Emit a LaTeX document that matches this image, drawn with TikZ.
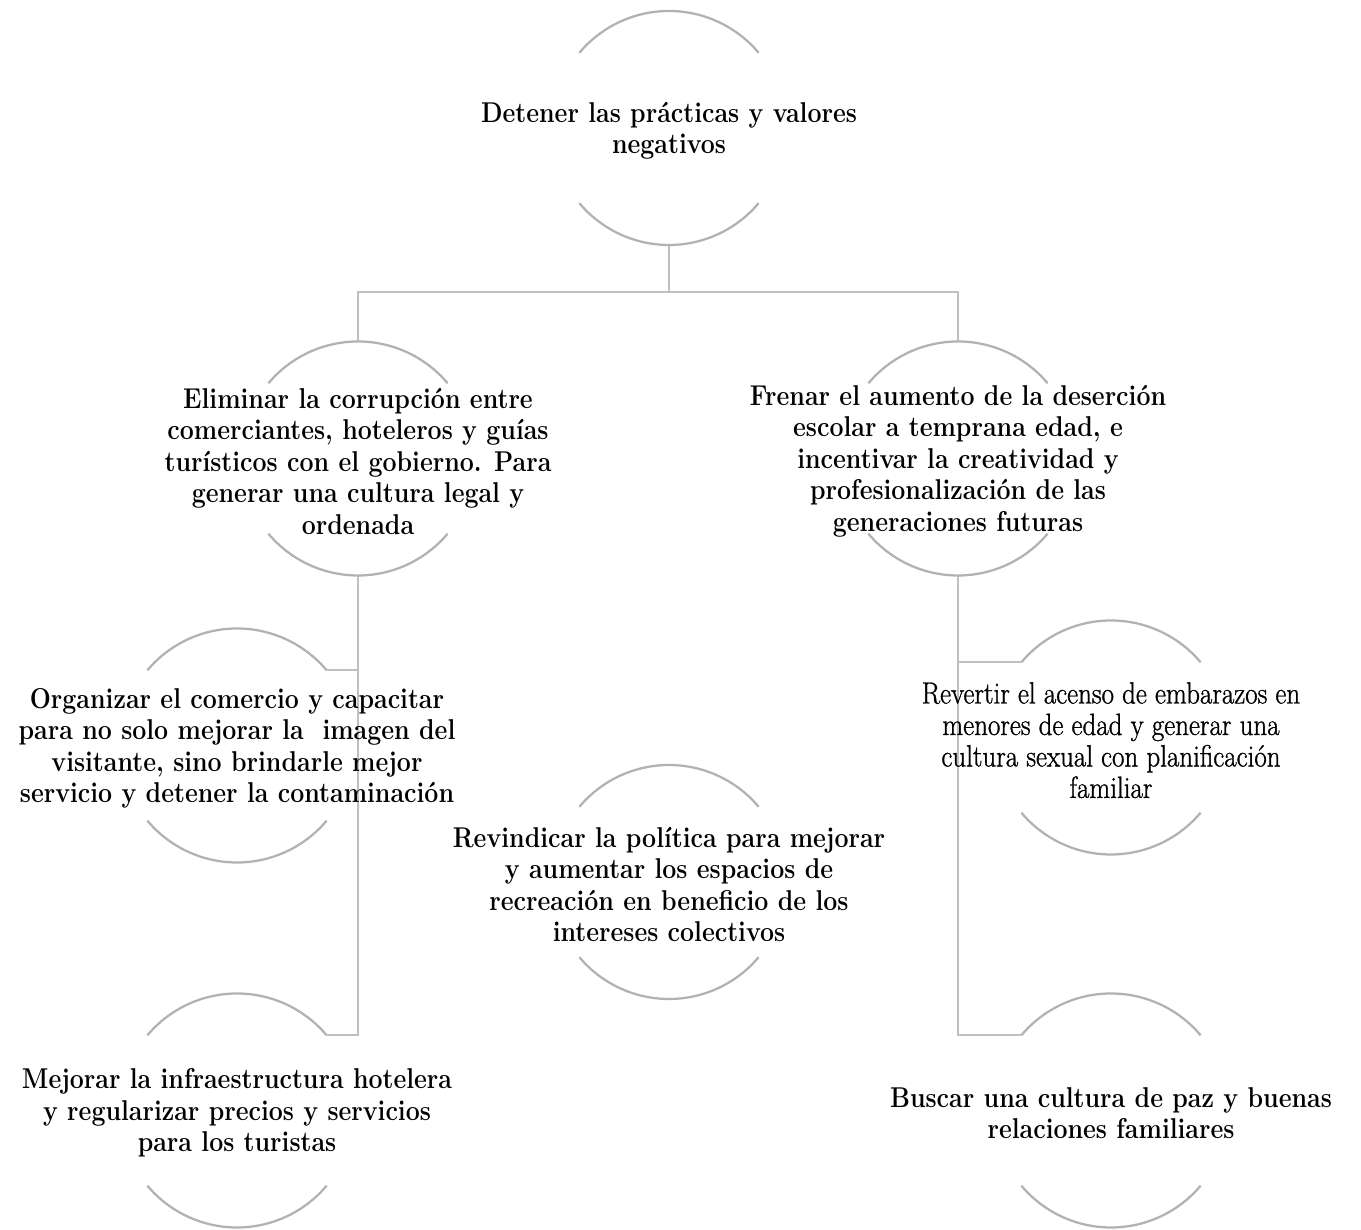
\documentclass[tikz,border=0pt]{standalone}
\usepackage{fontspec}
\setmainfont{Latin Modern Roman}
\newfontfamily\boldnarrow{Latin Modern Roman}[FakeStretch=0.87]
\newfontfamily\thinnarrow{Latin Modern Roman}[FakeStretch=0.88,FakeBold=1]
\begin{document}
\begin{tikzpicture}[x=0.75pt,y=0.75pt,
  ring/.style={circle,draw=none,minimum size=175.5pt,inner sep=0pt,outer sep=0pt},
  txt/.style={align=center,inner sep=0pt,font=\boldnarrow\bfseries\fontsize{21.5}{23.6}\selectfont},
  txtthin/.style={align=center,inner sep=0pt,font=\thinnarrow\fontsize{23}{23.6}\selectfont},
  arcst/.style={draw={rgb,255:red,178;green,178;blue,178},line width=1.7pt},
  conn/.style={draw={rgb,255:red,192;green,192;blue,192},line width=1.5pt}]
\useasboundingbox (0,0) rectangle (1361,1230);
% circles (invisible shape, only arcs drawn)
\node[ring] (n1) at (669,1102) {};
\node[ring] (n2) at (358,771.5) {};
\node[ring] (n3) at (958,771.5) {};
\node[ring] (n4) at (237,484.5) {};
\node[ring] (n5) at (237,119.5) {};
\node[ring] (n6) at (1111,492.5) {};
\node[ring] (n7) at (1111,119.5) {};
\node[ring] (n8) at (669,348) {};
\coordinate (j1) at (669,938);
% connectors
\draw[conn] (n1.south) -- (j1) -| (n2.north);
\draw[conn] (j1) -| (n3.north);
\draw[conn] (n2.south) |- (n4.40);
\draw[conn] (n2.south) |- (n5.40);
\draw[conn] (n3.south) |- (n6.140);
\draw[conn] (n3.south) |- (n7.140);
% arcs
\foreach \n in {n1,n2,n3,n4,n5,n6,n7,n8}{
  \draw[arcst] (\n.40) arc[start angle=40,end angle=140,radius=87.75pt];
  \draw[arcst] (\n.220) arc[start angle=220,end angle=320,radius=87.75pt];
}
% texts
\node[txt] (t1) at ([yshift=-2pt]n1.center) {Detener las prácticas y valores\\negativos};
\node[txt] (t2) at ([yshift=-2pt]n2.center) {Eliminar la corrupción entre\\comerciantes, hoteleros y guías\\turísticos con el gobierno. Para\\generar una cultura legal y\\ordenada};
\node[txt] (t3) at ([yshift=-2pt]n3.center) {Frenar el aumento de la deserción\\escolar a temprana edad, e\\incentivar la creatividad y\\profesionalización de las\\generaciones futuras};
\node[txt] (t4) at ([yshift=-2pt]n4.center) {Organizar el comercio y capacitar\\para no solo mejorar la~ imagen del\\visitante, sino brindarle mejor\\servicio y detener la contaminación};
\node[txt] (t5) at ([yshift=-2pt]n5.center) {Mejorar la infraestructura hotelera\\y regularizar precios y servicios\\para los turistas};
\node[txtthin] (t6) at ([yshift=-2pt]n6.center) {Revertir el acenso de embarazos en\\menores de edad y generar una\\cultura sexual con planificación\\familiar};
\node[txt] (t7) at ([yshift=-2pt]n7.center) {Buscar una cultura de paz y buenas\\relaciones familiares};
\node[txt] (t8) at ([yshift=-2pt]n8.center) {Revindicar la política para mejorar\\y aumentar los espacios de\\recreación en beneficio de los\\intereses colectivos};
\end{tikzpicture}
\end{document}
